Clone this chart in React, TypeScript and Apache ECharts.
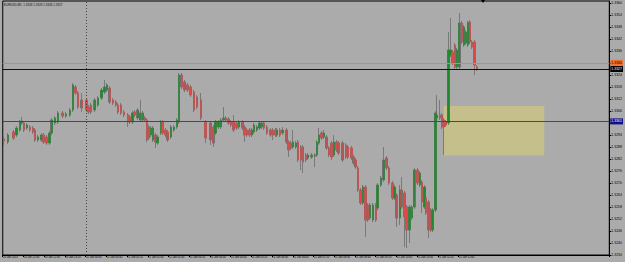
import React, { useEffect, useRef } from "react";
import * as echarts from "echarts";

const titleText = "EURUSD,M5  1.3328 1.3329 1.3326 1.3327";
// one category slot per minute, starting 20 Jan 21:20
const totalSlots = 1171;
const labelEvery = 40;
const lastBarSlot = 915;
const separatorSlot = 160;
const startDay = 20;
const startMinute = 21 * 60 + 20;

// minute offset of each bar (read from its position)
const barMinute = [
  2, 10, 20, 26, 33, 36, 41, 46, 52, 58, 62, 68, 74, 78, 84, 90, 94, 100, 106, 115,
  122, 129, 135, 140, 145, 152, 161, 165, 170, 177, 183, 190, 196, 201, 206, 212, 218, 222, 228, 234,
  241, 244, 250, 254, 260, 265, 270, 274, 278, 282, 286, 290, 294, 298, 305, 308, 314, 318, 324, 330,
  336, 340, 345, 350, 356, 362, 369, 375, 382, 391, 401, 406, 410, 416, 421, 426, 431, 435, 440, 445,
  451, 456, 462, 466, 471, 476, 481, 485, 490, 495, 500, 504, 510, 516, 521, 526, 529, 535, 540, 547,
  551, 556, 560, 566, 570, 575, 579, 585, 589, 596, 602, 606, 610, 615, 620, 625, 629, 634, 639, 644,
  648, 655, 662, 666, 673, 677, 681, 685, 690, 695, 700, 704, 709, 714, 720, 723, 730, 735, 740, 745,
  752, 756, 760, 766, 769, 775, 779, 785, 790, 794, 800, 805, 809, 814, 817, 821, 826, 829, 835, 838,
  844, 848, 851, 855, 860, 864, 868, 873, 876, 881, 886, 890, 894, 898, 901, 905, 910, 915,
];

// [open, close, low, high]
const ohlc: number[][] = [
  [1.32919, 1.32909, 1.32884, 1.32929], [1.32904, 1.32939, 1.32894, 1.32949], [1.32954, 1.32924, 1.32914, 1.32964],
  [1.32939, 1.32974, 1.32929, 1.32984], [1.32964, 1.33004, 1.32954, 1.33014], [1.32999, 1.33009, 1.32989, 1.33029],
  [1.32999, 1.32964, 1.32954, 1.33009], [1.32974, 1.32989, 1.32964, 1.32999], [1.32979, 1.32964, 1.32954, 1.32989],
  [1.32974, 1.32954, 1.32944, 1.32984], [1.32964, 1.32914, 1.32904, 1.32974], [1.32914, 1.32929, 1.32904, 1.32939],
  [1.32914, 1.32939, 1.32904, 1.32949], [1.32939, 1.32904, 1.32894, 1.32949], [1.32929, 1.32899, 1.32889, 1.32939],
  [1.32899, 1.32949, 1.32889, 1.32959], [1.32949, 1.33014, 1.32939, 1.33024], [1.32999, 1.33024, 1.32989, 1.33034],
  [1.33004, 1.33049, 1.32994, 1.33059], [1.33049, 1.33034, 1.33024, 1.33059], [1.33034, 1.33044, 1.33024, 1.33054],
  [1.33039, 1.33064, 1.33029, 1.33074], [1.33064, 1.33189, 1.33054, 1.33199], [1.33179, 1.33149, 1.33139, 1.33189],
  [1.33149, 1.33079, 1.33069, 1.33159], [1.33114, 1.33074, 1.33054, 1.33149], [1.33114, 1.33064, 1.33054, 1.33124],
  [1.33079, 1.33054, 1.33044, 1.33089], [1.33089, 1.33054, 1.33044, 1.33099], [1.33064, 1.33114, 1.33054, 1.33124],
  [1.33089, 1.33124, 1.33079, 1.33134], [1.33124, 1.33164, 1.33114, 1.33174], [1.33154, 1.33179, 1.33144, 1.33214],
  [1.33164, 1.33189, 1.33154, 1.33199], [1.33174, 1.33104, 1.33094, 1.33184], [1.33114, 1.33099, 1.33089, 1.33124],
  [1.33104, 1.33089, 1.33079, 1.33114], [1.33089, 1.33054, 1.33044, 1.33099], [1.33089, 1.33049, 1.33039, 1.33099],
  [1.33054, 1.33039, 1.33029, 1.33064], [1.33039, 1.33004, 1.32979, 1.33049], [1.33029, 1.33004, 1.32994, 1.33039],
  [1.33004, 1.33049, 1.32994, 1.33059], [1.33054, 1.33039, 1.33029, 1.33064], [1.33024, 1.33064, 1.33014, 1.33074],
  [1.33014, 1.33049, 1.33004, 1.33114], [1.33014, 1.33049, 1.33004, 1.33059], [1.33024, 1.33014, 1.33004, 1.33034],
  [1.33014, 1.32914, 1.32904, 1.33024], [1.32979, 1.32924, 1.32914, 1.32989], [1.32939, 1.32974, 1.32929, 1.32984],
  [1.32914, 1.32974, 1.32904, 1.32984], [1.32939, 1.32904, 1.32874, 1.32949], [1.32899, 1.32929, 1.32889, 1.32939],
  [1.32949, 1.33004, 1.32939, 1.33014], [1.33004, 1.32949, 1.32939, 1.33014], [1.32964, 1.32939, 1.32929, 1.32974],
  [1.32954, 1.32914, 1.32904, 1.32964], [1.32929, 1.32979, 1.32919, 1.32989], [1.32964, 1.32979, 1.32954, 1.32989],
  [1.32979, 1.33014, 1.32969, 1.33024], [1.33004, 1.33239, 1.32994, 1.33249], [1.33239, 1.33179, 1.33169, 1.33249],
  [1.33204, 1.33164, 1.33154, 1.33214], [1.33189, 1.33164, 1.33154, 1.33199], [1.33179, 1.33139, 1.33129, 1.33189],
  [1.33154, 1.33064, 1.33054, 1.33164], [1.33129, 1.33079, 1.33069, 1.33139], [1.33114, 1.33024, 1.33014, 1.33149],
  [1.33004, 1.32924, 1.32899, 1.33014], [1.32999, 1.32914, 1.32889, 1.33009], [1.32979, 1.32899, 1.32879, 1.32989],
  [1.32949, 1.33004, 1.32939, 1.33014], [1.32979, 1.33004, 1.32969, 1.33014], [1.32979, 1.33014, 1.32969, 1.33024],
  [1.33014, 1.33024, 1.33004, 1.33079], [1.33024, 1.33014, 1.33004, 1.33034], [1.33019, 1.32999, 1.32989, 1.33029],
  [1.33004, 1.32989, 1.32979, 1.33014], [1.33004, 1.32964, 1.32954, 1.33039], [1.32999, 1.32974, 1.32964, 1.33009],
  [1.32979, 1.33004, 1.32969, 1.33014], [1.33004, 1.32974, 1.32964, 1.33014], [1.32979, 1.32939, 1.32904, 1.32989],
  [1.32964, 1.32939, 1.32929, 1.32974], [1.32964, 1.32939, 1.32929, 1.32974], [1.32939, 1.32964, 1.32929, 1.32974],
  [1.32954, 1.32989, 1.32944, 1.32999], [1.32964, 1.32979, 1.32954, 1.32989], [1.32974, 1.32999, 1.32964, 1.33009],
  [1.32979, 1.32999, 1.32969, 1.33009], [1.32999, 1.32974, 1.32964, 1.33009], [1.32979, 1.32949, 1.32939, 1.32989],
  [1.32964, 1.32939, 1.32929, 1.32974], [1.32964, 1.32939, 1.32914, 1.32974], [1.32964, 1.32939, 1.32929, 1.32974],
  [1.32939, 1.32964, 1.32929, 1.32974], [1.32964, 1.32939, 1.32929, 1.32974], [1.32949, 1.32964, 1.32939, 1.32979],
  [1.32964, 1.32904, 1.32894, 1.32974], [1.32904, 1.32864, 1.32829, 1.32914], [1.32899, 1.32874, 1.32864, 1.32909],
  [1.32879, 1.32904, 1.32869, 1.32964], [1.32879, 1.32899, 1.32869, 1.32909], [1.32904, 1.32814, 1.32804, 1.32914],
  [1.32879, 1.32814, 1.32764, 1.32889], [1.32879, 1.32804, 1.32749, 1.32889], [1.32839, 1.32814, 1.32804, 1.32849],
  [1.32824, 1.32839, 1.32814, 1.32849], [1.32829, 1.32839, 1.32819, 1.32849], [1.32834, 1.32839, 1.32779, 1.32849],
  [1.32839, 1.32904, 1.32829, 1.32914], [1.32899, 1.32939, 1.32889, 1.32974], [1.32949, 1.32924, 1.32914, 1.32959],
  [1.32929, 1.32949, 1.32919, 1.32964], [1.32929, 1.32874, 1.32864, 1.32939], [1.32874, 1.32839, 1.32829, 1.32884],
  [1.32899, 1.32829, 1.32814, 1.32909], [1.32839, 1.32904, 1.32829, 1.32939], [1.32904, 1.32864, 1.32854, 1.32914],
  [1.32899, 1.32849, 1.32839, 1.32909], [1.32899, 1.32814, 1.32804, 1.32909], [1.32889, 1.32829, 1.32819, 1.32899],
  [1.32879, 1.32829, 1.32819, 1.32889], [1.32874, 1.32824, 1.32814, 1.32884], [1.32829, 1.32799, 1.32789, 1.32839],
  [1.32814, 1.32779, 1.32769, 1.32824], [1.32774, 1.32664, 1.32654, 1.32784], [1.32664, 1.32599, 1.32589, 1.32674],
  [1.32599, 1.32679, 1.32589, 1.32689], [1.32679, 1.32514, 1.32429, 1.32689], [1.32589, 1.32514, 1.32504, 1.32599],
  [1.32524, 1.32589, 1.32514, 1.32599], [1.32514, 1.32589, 1.32504, 1.32599], [1.32589, 1.32514, 1.32504, 1.32599],
  [1.32574, 1.32689, 1.32564, 1.32699], [1.32689, 1.32724, 1.32679, 1.32734], [1.32714, 1.32814, 1.32704, 1.32879],
  [1.32824, 1.32774, 1.32764, 1.32834], [1.32774, 1.32699, 1.32689, 1.32784], [1.32699, 1.32624, 1.32614, 1.32709],
  [1.32624, 1.32679, 1.32614, 1.32689], [1.32639, 1.32524, 1.32479, 1.32649], [1.32524, 1.32664, 1.32489, 1.32689],
  [1.32664, 1.32579, 1.32569, 1.32729], [1.32649, 1.32529, 1.32379, 1.32659], [1.32579, 1.32464, 1.32374, 1.32589],
  [1.32464, 1.32579, 1.32399, 1.32589], [1.32524, 1.32579, 1.32514, 1.32589], [1.32579, 1.32764, 1.32569, 1.32774],
  [1.32764, 1.32699, 1.32689, 1.32774], [1.32689, 1.32749, 1.32679, 1.32759], [1.32704, 1.32604, 1.32549, 1.32714],
  [1.32579, 1.32679, 1.32569, 1.32689], [1.32624, 1.32549, 1.32539, 1.32634], [1.32604, 1.32464, 1.32424, 1.32614],
  [1.32564, 1.32464, 1.32454, 1.32574], [1.32464, 1.32564, 1.32454, 1.32574], [1.32564, 1.33049, 1.32554, 1.33059],
  [1.33024, 1.33039, 1.33014, 1.33139], [1.33039, 1.33024, 1.33014, 1.33114], [1.33039, 1.32979, 1.32969, 1.33049],
  [1.33014, 1.32979, 1.32839, 1.33024], [1.33004, 1.32989, 1.32979, 1.33014], [1.32999, 1.33364, 1.32989, 1.33454],
  [1.33339, 1.33364, 1.33329, 1.33524], [1.33354, 1.33299, 1.33289, 1.33364], [1.33389, 1.33279, 1.33269, 1.33399],
  [1.33279, 1.33364, 1.33269, 1.33374], [1.33279, 1.33499, 1.33269, 1.33549], [1.33499, 1.33404, 1.33394, 1.33509],
  [1.33389, 1.33479, 1.33379, 1.33489], [1.33399, 1.33454, 1.33389, 1.33464], [1.33389, 1.33499, 1.33379, 1.33509],
  [1.33504, 1.33404, 1.33394, 1.33514], [1.33404, 1.33379, 1.33369, 1.33414], [1.33404, 1.33289, 1.33239, 1.33414],
  [1.33279, 1.33269, 1.33259, 1.33289],
];

const priceTicks = [
  1.336, 1.3354, 1.3348, 1.3342, 1.3336, 1.333, 1.3324, 1.3318, 1.3312, 1.3306, 1.33,
  1.3294, 1.3288, 1.3282, 1.3276, 1.327, 1.3264, 1.3258, 1.3252, 1.3246, 1.324, 1.3234,
];
const yMin = 1.32339;
const yMax = 1.33609;

const levelOrange = 1.333;
const levelBlack = 1.33269;
const levelBlue = 1.33007;
const zoneTop = 1.33084;
const zoneBottom = 1.32836;
const zoneStartSlot = 851;
const zoneEndSlot = 1045;

function slotLabel(i: number): string {
  const t = startMinute + i;
  const day = startDay + Math.floor(t / 1440);
  const m = t % 1440;
  const hh = String(Math.floor(m / 60)).padStart(2, "0");
  const mm = String(m % 60).padStart(2, "0");
  if (i === 0) return `${day} Jan 2013`;
  return `${day} Jan ${hh}:${mm}`;
}
const categories = Array.from({ length: totalSlots }, (_, i) => slotLabel(i));
const candleData = ohlc.map((v, i) => [barMinute[i], v[0], v[1], v[2], v[3]]);
const bodyData = ohlc.map((v, i) => [barMinute[i], v[0], v[1], Math.min(v[0], v[1]), Math.max(v[0], v[1])]);

export default function App() {
  const ref = useRef<HTMLDivElement>(null);
  useEffect(() => {
    const chart = echarts.init(ref.current!, null, { renderer: "svg" });
    const font = "Liberation Sans";
    const showSlot = (i: number) => i % labelEvery === 0 && i <= lastBarSlot;
    const up = "#1E8A2C";
    const down = "#DE4A4A";
    const wick = "#6C6C6C";
    const lvl = (value: number, line: string, bg: string, fg: string) => ({
      name: "lvl" + value,
      type: "line",
      data: [],
      silent: true,
      z: 1,
      markLine: {
        silent: true,
        symbol: "none",
        precision: 5,
        animation: false,
        data: [{ yAxis: value }],
        lineStyle: { color: line, width: 1.2, type: "solid", opacity: 1 },
        label: {
          show: true,
          position: "end",
          distance: 1,
          formatter: () => value.toFixed(4),
          backgroundColor: bg,
          color: fg,
          fontSize: 3.5,
          fontFamily: font,
          padding: [1, 1, 1, 1],
        },
      },
    });
    chart.setOption({
      animation: false,
      backgroundColor: "#ABABAB",
      textStyle: { fontFamily: font },
      grid: {
        left: 1,
        right: 14,
        top: 1,
        bottom: 7,
        show: true,
        borderColor: "#000",
        borderWidth: 1,
      },
      graphic: [
        {
          type: "text",
          left: 4,
          top: 3,
          style: { text: titleText, fontSize: 3, fill: "#111", fontFamily: font },
        },
        {
          type: "polygon",
          shape: { points: [[481, 0], [485, 0], [483, 3]] },
          style: { fill: "#000" },
        },
      ],
      xAxis: {
        type: "category",
        data: categories,
        boundaryGap: true,
        axisLine: { show: true, lineStyle: { color: "#000", width: 1 } },
        axisTick: { show: true, interval: (i: number) => showSlot(i), length: 2, lineStyle: { color: "#000" } },
        axisLabel: {
          show: true,
          interval: (i: number) => showSlot(i),
          fontSize: 2.7,
          color: "#000",
          align: "left",
          margin: 1,
          fontFamily: font,
        },
        splitLine: { show: false },
      },
      yAxis: {
        type: "value",
        position: "right",
        min: yMin,
        max: yMax,
        scale: true,
        axisLine: { show: true, lineStyle: { color: "#000", width: 1 } },
        axisTick: { show: true, length: 2, customValues: priceTicks, lineStyle: { color: "#000" } },
        axisLabel: {
          show: true,
          customValues: priceTicks,
          formatter: (v: number) => v.toFixed(4),
          fontSize: 3.5,
          color: "#000",
          margin: 2,
          fontFamily: font,
        },
        splitLine: { show: false },
      },
      series: [
        {
          name: "zone",
          type: "line",
          data: [],
          silent: true,
          z: 0,
          markArea: {
            silent: true,
            itemStyle: { color: "rgba(224,212,110,0.5)" },
            data: [
              [
                { xAxis: categories[zoneStartSlot], yAxis: zoneTop },
                { xAxis: categories[zoneEndSlot], yAxis: zoneBottom },
              ],
            ],
          },
          markLine: {
            silent: true,
            symbol: "none",
            animation: false,
            data: [{ xAxis: categories[separatorSlot] }],
            lineStyle: { color: "#444", width: 1, type: [1, 2] },
            label: { show: false },
          },
        },
        lvl(levelOrange, "#F27A4E", "#F07030", "#000"),
        lvl(levelBlack, "#111111", "#000", "#FFF"),
        lvl(levelBlue, "#3A3AC0", "#10108A", "#FFF"),
        {
          name: "EURUSD wicks",
          type: "candlestick",
          data: candleData,
          encode: { x: 0, y: [1, 2, 3, 4] },
          barWidth: 2,
          z: 3,
          itemStyle: {
            color: wick,
            color0: wick,
            borderColor: wick,
            borderColor0: wick,
            borderWidth: 0.8,
          },
        },
        {
          name: "EURUSD",
          type: "candlestick",
          data: bodyData,
          encode: { x: 0, y: [1, 2, 3, 4] },
          barWidth: 1.8,
          z: 4,
          itemStyle: {
            color: up,
            color0: down,
            borderColor: up,
            borderColor0: down,
            borderWidth: 0.3,
          },
        },
      ],
    });
    return () => chart.dispose();
  }, []);
  return <div ref={ref} style={{ position: "fixed", left: 0, top: 0, width: 625, height: 262 }} />;
}
